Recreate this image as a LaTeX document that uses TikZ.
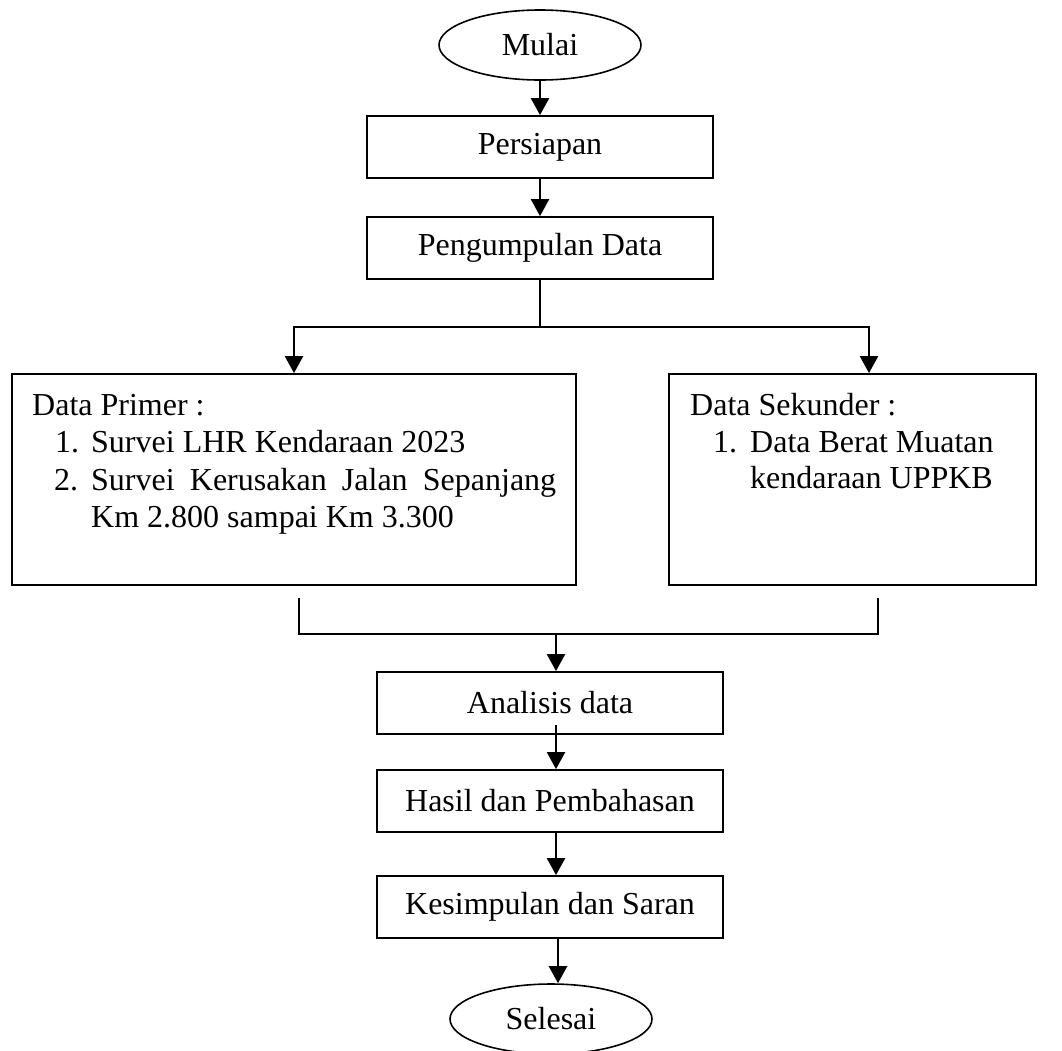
\documentclass[tikz,border=0pt]{standalone}
\usepackage{fontspec}
\setmainfont{Liberation Serif}
\usetikzlibrary{arrows.meta,shapes.geometric,calc}
\begin{document}
\begin{tikzpicture}[x=1pt,y=-1pt,
  every node/.style={font=\fontsize{32}{37}\selectfont},
  stepbox/.style={draw,line width=1.8pt,rectangle,inner sep=0pt,
    minimum width=346pt,minimum height=62pt},
  terminal/.style={draw,line width=1.6pt,ellipse,inner sep=0pt,
    minimum width=202pt,minimum height=70pt},
  link/.style={line width=2.4pt},
  flow/.style={link,-{Triangle[length=17pt,width=18pt]}},
  txt/.style={anchor=base west,inner sep=0pt}]
\useasboundingbox (0,0) rectangle (1062,1050);

% process steps
\node[terminal] (mulai) at (540,45) {Mulai};
\node[stepbox] (persiapan) at (540,147) {Persiapan};
\node[stepbox] (pengumpulan) at (540,248) {Pengumpulan Data};
\node[stepbox,minimum width=564pt,minimum height=211pt] (primer) at (294,479.5) {};
\node[stepbox,minimum width=367pt,minimum height=211pt] (sekunder) at (852.5,479.5) {};
\node[stepbox] (analisis) at (550,703) {Analisis data};
\node[stepbox] (hasil) at (550,801) {Hasil dan Pembahasan};
\node[stepbox] (kesimpulan) at (550,907) {Kesimpulan dan Saran};
\node[terminal] (selesai) at (551,1019) {Selesai};

% contents of the data boxes
\node[txt] (primhead) at (32,415) {Data Primer :};
\node[txt] (primn1) at (55,452) {1.};
\node[txt] (primi1) at (91,452) {Survei LHR Kendaraan 2023};
\node[txt] (primn2) at (54,490) {2.};
\node[txt] (primi2) at (91,490) {\hbox to 465pt{Survei\hfill Kerusakan\hfill Jalan\hfill Sepanjang}};
\node[txt] (primi2b) at (91,527) {Km 2.800 sampai Km 3.300};
\node[txt] (sekhead) at (690,415) {Data Sekunder :};
\node[txt] (sekn1) at (713,452) {1.};
\node[txt] (seki1) at (750,452) {Data Berat Muatan};
\node[txt] (seki1b) at (750,488) {kendaraan UPPKB};

% helper points of the connectors
\coordinate (split) at (540,327);
\coordinate (colx) at (556,0);
\coordinate (endx) at (558,0);
\coordinate (joinl) at (299,598);
\coordinate (joinr) at (878,598);
\coordinate (merge) at (556,634);

% connectors
\draw[flow] (mulai.south) -- (persiapan.north);
\draw[flow] (persiapan.south) -- (pengumpulan.north);
\draw[link] (pengumpulan.south) -- (split);
\draw[flow] (split) -| (primer.north);
\draw[flow] (split) -| ([xshift=16.5pt]sekunder.north);
\draw[link] (joinl) |- (merge) -| (joinr);
\draw[flow] (merge) -- (analisis.north -| merge);
\draw[flow] ($(analisis.south -| colx)+(0,-10)$) -- (hasil.north -| colx);
\draw[flow] (hasil.south -| colx) -- (kesimpulan.north -| colx);
\draw[flow] (kesimpulan.south -| endx) -- (selesai.north -| endx);
\end{tikzpicture}
\end{document}
